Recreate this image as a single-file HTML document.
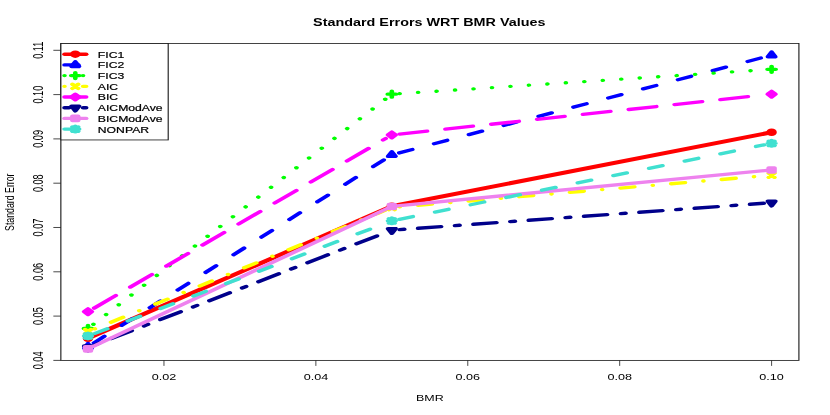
<!DOCTYPE html>
<html><head><meta charset="utf-8"><title>Standard Errors WRT BMR Values</title>
<style>
html,body{margin:0;padding:0;background:#fff;}
body{width:830px;height:415px;overflow:hidden;}
svg{display:block;will-change:transform;}
text{font-family:"Liberation Sans",sans-serif;fill:#000;}
</style></head><body>
<svg width="830" height="415" viewBox="0 0 830 415">
<rect width="830" height="415" fill="#fff"/>
<g transform="scale(1.025,0.742)" fill="none">
<polyline points="85.85,455.86 382.27,277.95 752.78,178.24" stroke="#ff0000" stroke-width="5.33" stroke-linecap="round" stroke-linejoin="round"/>
<circle cx="85.85" cy="455.86" r="2.83" stroke="#ff0000" fill="#ff0000" stroke-width="4.52" stroke-linejoin="round" stroke-linecap="round"/>
<circle cx="382.27" cy="277.95" r="2.83" stroke="#ff0000" fill="#ff0000" stroke-width="4.52" stroke-linejoin="round" stroke-linecap="round"/>
<circle cx="752.78" cy="178.24" r="2.83" stroke="#ff0000" fill="#ff0000" stroke-width="4.52" stroke-linejoin="round" stroke-linecap="round"/>
<line x1="91.64" y1="462.16" x2="376.47" y2="213.74" stroke="#0000ff" stroke-width="4.52" stroke-linecap="round" stroke-dasharray="13.56,22.60" stroke-dashoffset="0.00"/>
<line x1="389.49" y1="206.07" x2="745.56" y2="76.98" stroke="#0000ff" stroke-width="4.52" stroke-linecap="round" stroke-dasharray="13.56,22.60" stroke-dashoffset="0.00"/>
<polygon points="85.85,463.02 89.48,469.30 82.23,469.30" stroke="#0000ff" fill="#0000ff" stroke-width="4.52" stroke-linejoin="round" stroke-linecap="round"/>
<polygon points="382.27,204.50 385.89,210.78 378.64,210.78" stroke="#0000ff" fill="#0000ff" stroke-width="4.52" stroke-linejoin="round" stroke-linecap="round"/>
<polygon points="752.78,70.17 756.41,76.45 749.15,76.45" stroke="#0000ff" fill="#0000ff" stroke-width="4.52" stroke-linejoin="round" stroke-linecap="round"/>
<line x1="91.11" y1="437.12" x2="377.01" y2="132.50" stroke="#00ff00" stroke-width="4.52" stroke-linecap="round" stroke-dasharray="0.01,18.08" stroke-dashoffset="0.00"/>
<line x1="389.92" y1="126.21" x2="745.13" y2="94.15" stroke="#00ff00" stroke-width="4.52" stroke-linecap="round" stroke-dasharray="0.01,18.08" stroke-dashoffset="0.00"/>
<path d="M81.84 442.73H89.86M85.85 438.72V446.74" stroke="#00ff00" fill="#00ff00" stroke-width="4.52" stroke-linejoin="round" stroke-linecap="round"/>
<path d="M378.26 126.90H386.27M382.27 122.89V130.90" stroke="#00ff00" fill="#00ff00" stroke-width="4.52" stroke-linejoin="round" stroke-linecap="round"/>
<path d="M748.77 93.46H756.79M752.78 89.45V97.47" stroke="#00ff00" fill="#00ff00" stroke-width="4.52" stroke-linejoin="round" stroke-linecap="round"/>
<line x1="92.55" y1="443.13" x2="375.57" y2="283.51" stroke="#ffff00" stroke-width="4.52" stroke-linecap="round" stroke-dasharray="0.01,18.08,13.56,18.08" stroke-dashoffset="0.00"/>
<line x1="389.90" y1="278.84" x2="745.15" y2="237.05" stroke="#ffff00" stroke-width="4.52" stroke-linecap="round" stroke-dasharray="0.01,18.08,13.56,18.08" stroke-dashoffset="0.00"/>
<path d="M83.02 444.07L88.69 449.74M83.02 449.74L88.69 444.07" stroke="#ffff00" fill="#ffff00" stroke-width="4.52" stroke-linejoin="round" stroke-linecap="round"/>
<path d="M379.43 276.90L385.10 282.57M379.43 282.57L385.10 276.90" stroke="#ffff00" fill="#ffff00" stroke-width="4.52" stroke-linejoin="round" stroke-linecap="round"/>
<path d="M749.95 233.32L755.62 238.99M749.95 238.99L755.62 233.32" stroke="#ffff00" fill="#ffff00" stroke-width="4.52" stroke-linejoin="round" stroke-linecap="round"/>
<line x1="91.84" y1="415.23" x2="376.28" y2="186.64" stroke="#ff00ff" stroke-width="4.52" stroke-linecap="round" stroke-dasharray="27.12,18.08" stroke-dashoffset="0.00"/>
<line x1="389.87" y1="180.70" x2="745.18" y2="128.02" stroke="#ff00ff" stroke-width="4.52" stroke-linecap="round" stroke-dasharray="27.12,18.08" stroke-dashoffset="0.00"/>
<polygon points="85.85,416.24 89.65,420.04 85.85,423.84 82.05,420.04" stroke="#ff00ff" fill="#ff00ff" stroke-width="4.52" stroke-linejoin="round" stroke-linecap="round"/>
<polygon points="382.27,178.02 386.07,181.82 382.27,185.62 378.47,181.82" stroke="#ff00ff" fill="#ff00ff" stroke-width="4.52" stroke-linejoin="round" stroke-linecap="round"/>
<polygon points="752.78,123.10 756.58,126.90 752.78,130.70 748.98,126.90" stroke="#ff00ff" fill="#ff00ff" stroke-width="4.52" stroke-linejoin="round" stroke-linecap="round"/>
<line x1="92.63" y1="464.78" x2="375.49" y2="313.80" stroke="#00008b" stroke-width="4.52" stroke-linecap="round" stroke-dasharray="4.52,13.56,22.60,13.56" stroke-dashoffset="0.00"/>
<line x1="389.91" y1="309.42" x2="745.13" y2="273.93" stroke="#00008b" stroke-width="4.52" stroke-linecap="round" stroke-dasharray="4.52,13.56,22.60,13.56" stroke-dashoffset="0.00"/>
<polygon points="85.85,472.68 89.56,466.26 82.15,466.26" stroke="#00008b" fill="#00008b" stroke-width="4.52" stroke-linejoin="round" stroke-linecap="round"/>
<polygon points="382.27,314.46 385.97,308.05 378.56,308.05" stroke="#00008b" fill="#00008b" stroke-width="4.52" stroke-linejoin="round" stroke-linecap="round"/>
<polygon points="752.78,277.45 756.48,271.03 749.08,271.03" stroke="#00008b" fill="#00008b" stroke-width="4.52" stroke-linejoin="round" stroke-linecap="round"/>
<polyline points="85.85,470.19 382.27,278.18 752.78,228.99" stroke="#ee82ee" stroke-width="4.52" stroke-linecap="round" stroke-linejoin="round"/>
<rect x="83.02" y="467.36" width="5.67" height="5.67" stroke="#ee82ee" fill="#ee82ee" stroke-width="4.52" stroke-linejoin="round" stroke-linecap="round"/>
<rect x="379.43" y="275.35" width="5.67" height="5.67" stroke="#ee82ee" fill="#ee82ee" stroke-width="4.52" stroke-linejoin="round" stroke-linecap="round"/>
<rect x="749.95" y="226.15" width="5.67" height="5.67" stroke="#ee82ee" fill="#ee82ee" stroke-width="4.52" stroke-linejoin="round" stroke-linecap="round"/>
<line x1="92.66" y1="449.31" x2="375.46" y2="301.21" stroke="#40e0d0" stroke-width="4.52" stroke-linecap="round" stroke-dasharray="13.56,22.60" stroke-dashoffset="0.00"/>
<line x1="389.66" y1="295.56" x2="745.38" y2="195.25" stroke="#40e0d0" stroke-width="4.52" stroke-linecap="round" stroke-dasharray="13.56,22.60" stroke-dashoffset="0.00"/>
<path d="M82.05 452.88H89.65M85.85 449.08V456.68M82.95 449.98L88.75 455.78M82.95 455.78L88.75 449.98" stroke="#40e0d0" fill="#40e0d0" stroke-width="4.52" stroke-linejoin="round" stroke-linecap="round"/>
<path d="M378.47 297.65H386.07M382.27 293.85V301.45M379.37 294.75L385.17 300.55M379.37 300.55L385.17 294.75" stroke="#40e0d0" fill="#40e0d0" stroke-width="4.52" stroke-linejoin="round" stroke-linecap="round"/>
<path d="M748.98 193.17H756.58M752.78 189.37V196.97M749.88 190.27L755.68 196.07M749.88 196.07L755.68 190.27" stroke="#40e0d0" fill="#40e0d0" stroke-width="4.52" stroke-linejoin="round" stroke-linecap="round"/>
</g>
<g transform="scale(1.025,0.742)" stroke="#1a1a1a" stroke-width="1.1" fill="none">
<rect x="59.37" y="58.69" width="720.05" height="427.02"/>
<line stroke-width="0.9" x1="159.96" y1="485.71" x2="159.96" y2="493.13"/>
<line stroke-width="0.9" x1="308.16" y1="485.71" x2="308.16" y2="493.13"/>
<line stroke-width="0.9" x1="456.37" y1="485.71" x2="456.37" y2="493.13"/>
<line stroke-width="0.9" x1="604.57" y1="485.71" x2="604.57" y2="493.13"/>
<line stroke-width="0.9" x1="752.78" y1="485.71" x2="752.78" y2="493.13"/>
<line stroke-width="0.9" x1="59.37" y1="485.71" x2="52.05" y2="485.71"/>
<line stroke-width="0.9" x1="59.37" y1="426.01" x2="52.05" y2="426.01"/>
<line stroke-width="0.9" x1="59.37" y1="366.31" x2="52.05" y2="366.31"/>
<line stroke-width="0.9" x1="59.37" y1="306.60" x2="52.05" y2="306.60"/>
<line stroke-width="0.9" x1="59.37" y1="246.90" x2="52.05" y2="246.90"/>
<line stroke-width="0.9" x1="59.37" y1="187.20" x2="52.05" y2="187.20"/>
<line stroke-width="0.9" x1="59.37" y1="127.49" x2="52.05" y2="127.49"/>
<line stroke-width="0.9" x1="59.37" y1="67.79" x2="52.05" y2="67.79"/>
</g>
<text transform="translate(164.0,380.4) scale(1.38,1)" font-size="9.15" text-anchor="middle">0.02</text>
<text transform="translate(315.9,380.4) scale(1.38,1)" font-size="9.15" text-anchor="middle">0.04</text>
<text transform="translate(467.8,380.4) scale(1.38,1)" font-size="9.15" text-anchor="middle">0.06</text>
<text transform="translate(619.7,380.4) scale(1.38,1)" font-size="9.15" text-anchor="middle">0.08</text>
<text transform="translate(771.6,380.4) scale(1.38,1)" font-size="9.15" text-anchor="middle">0.10</text>
<text transform="translate(43.4,360.4) rotate(-90) scale(0.664,1)" font-size="13.8" text-anchor="middle">0.04</text>
<text transform="translate(43.4,316.1) rotate(-90) scale(0.664,1)" font-size="13.8" text-anchor="middle">0.05</text>
<text transform="translate(43.4,271.8) rotate(-90) scale(0.664,1)" font-size="13.8" text-anchor="middle">0.06</text>
<text transform="translate(43.4,227.5) rotate(-90) scale(0.664,1)" font-size="13.8" text-anchor="middle">0.07</text>
<text transform="translate(43.4,183.2) rotate(-90) scale(0.664,1)" font-size="13.8" text-anchor="middle">0.08</text>
<text transform="translate(43.4,138.9) rotate(-90) scale(0.664,1)" font-size="13.8" text-anchor="middle">0.09</text>
<text transform="translate(43.4,94.6) rotate(-90) scale(0.664,1)" font-size="13.8" text-anchor="middle">0.10</text>
<text transform="translate(43.4,50.3) rotate(-90) scale(0.664,1)" font-size="13.8" text-anchor="middle">0.11</text>
<text transform="translate(429.9,400.8) scale(1.41,1)" font-size="8.85" text-anchor="middle">BMR</text>
<text transform="translate(14.1,202.2) rotate(-90) scale(0.68,1)" font-size="12.9" text-anchor="middle">Standard Error</text>
<text transform="translate(429.3,25.8) scale(1.262,1)" font-size="11.4" font-weight="bold" text-anchor="middle">Standard Errors WRT BMR Values</text>
<g transform="scale(1.025,0.742)" fill="none">
<rect x="59.37" y="58.69" width="104.73" height="129.92" fill="#fff" stroke="#1a1a1a" stroke-width="1.1"/>
<line x1="62.94" y1="73.05" x2="84.08" y2="73.05" stroke="#ff0000" stroke-width="4.52" stroke-linecap="round"/>
<circle cx="73.46" cy="73.05" r="2.83" stroke="#ff0000" fill="#ff0000" stroke-width="4.52" stroke-linejoin="round" stroke-linecap="round"/>
<line x1="62.94" y1="87.47" x2="84.08" y2="87.47" stroke="#0000ff" stroke-width="4.52" stroke-linecap="round" stroke-dasharray="13.56,22.60" stroke-dashoffset="0.00"/>
<polygon points="73.46,83.28 77.09,89.56 69.84,89.56" stroke="#0000ff" fill="#0000ff" stroke-width="4.52" stroke-linejoin="round" stroke-linecap="round"/>
<line x1="62.94" y1="101.89" x2="84.08" y2="101.89" stroke="#00ff00" stroke-width="4.52" stroke-linecap="round" stroke-dasharray="0.01,18.08" stroke-dashoffset="0.00"/>
<path d="M69.45 101.89H77.47M73.46 97.88V105.90" stroke="#00ff00" fill="#00ff00" stroke-width="4.52" stroke-linejoin="round" stroke-linecap="round"/>
<line x1="62.94" y1="116.31" x2="84.08" y2="116.31" stroke="#ffff00" stroke-width="4.52" stroke-linecap="round" stroke-dasharray="0.01,18.08,13.56,18.08" stroke-dashoffset="0.00"/>
<path d="M70.63 113.47L76.30 119.14M70.63 119.14L76.30 113.47" stroke="#ffff00" fill="#ffff00" stroke-width="4.52" stroke-linejoin="round" stroke-linecap="round"/>
<line x1="62.94" y1="130.73" x2="84.08" y2="130.73" stroke="#ff00ff" stroke-width="4.52" stroke-linecap="round" stroke-dasharray="27.12,18.08" stroke-dashoffset="0.00"/>
<polygon points="73.46,126.93 77.26,130.73 73.46,134.53 69.66,130.73" stroke="#ff00ff" fill="#ff00ff" stroke-width="4.52" stroke-linejoin="round" stroke-linecap="round"/>
<line x1="62.94" y1="145.15" x2="84.08" y2="145.15" stroke="#00008b" stroke-width="4.52" stroke-linecap="round" stroke-dasharray="4.52,13.56,22.60,13.56" stroke-dashoffset="0.00"/>
<polygon points="73.46,149.42 77.17,143.01 69.76,143.01" stroke="#00008b" fill="#00008b" stroke-width="4.52" stroke-linejoin="round" stroke-linecap="round"/>
<line x1="62.94" y1="159.57" x2="84.08" y2="159.57" stroke="#ee82ee" stroke-width="4.52" stroke-linecap="round"/>
<rect x="70.63" y="156.73" width="5.67" height="5.67" stroke="#ee82ee" fill="#ee82ee" stroke-width="4.52" stroke-linejoin="round" stroke-linecap="round"/>
<line x1="62.94" y1="173.99" x2="84.08" y2="173.99" stroke="#40e0d0" stroke-width="4.52" stroke-linecap="round" stroke-dasharray="13.56,22.60" stroke-dashoffset="0.00"/>
<path d="M69.66 173.99H77.26M73.46 170.19V177.79M70.56 171.09L76.36 176.89M70.56 176.89L76.36 171.09" stroke="#40e0d0" fill="#40e0d0" stroke-width="4.52" stroke-linejoin="round" stroke-linecap="round"/>
</g>
<text transform="translate(97.8,57.6) scale(1.42,1)" font-size="8.6" stroke="#000" stroke-width="0.2">FIC1</text>
<text transform="translate(97.8,68.3) scale(1.42,1)" font-size="8.6" stroke="#000" stroke-width="0.2">FIC2</text>
<text transform="translate(97.8,79.0) scale(1.42,1)" font-size="8.6" stroke="#000" stroke-width="0.2">FIC3</text>
<text transform="translate(97.8,89.7) scale(1.42,1)" font-size="8.6" stroke="#000" stroke-width="0.2">AIC</text>
<text transform="translate(97.8,100.4) scale(1.42,1)" font-size="8.6" stroke="#000" stroke-width="0.2">BIC</text>
<text transform="translate(97.8,111.1) scale(1.42,1)" font-size="8.6" stroke="#000" stroke-width="0.2">AICModAve</text>
<text transform="translate(97.8,121.8) scale(1.42,1)" font-size="8.6" stroke="#000" stroke-width="0.2">BICModAve</text>
<text transform="translate(97.8,132.5) scale(1.42,1)" font-size="8.6" stroke="#000" stroke-width="0.2">NONPAR</text>
</svg></body></html>
